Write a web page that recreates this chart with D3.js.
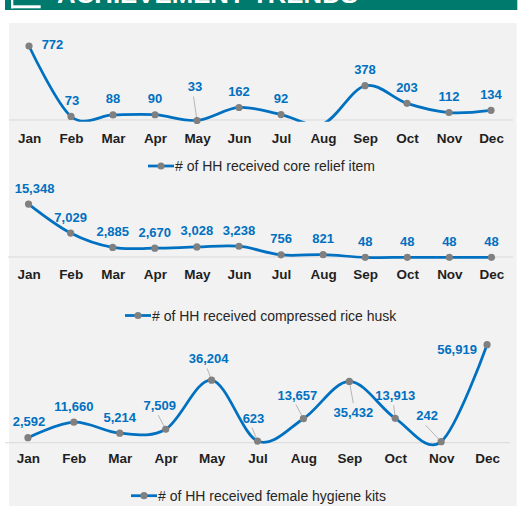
<!DOCTYPE html>
<html>
<head>
<meta charset="utf-8">
<script src="https://cdn.jsdelivr.net/npm/d3@7"></script>
<style>
  html, body { margin: 0; padding: 0; background: #ffffff; }
  svg { display: block; }
  text { font-family: "Liberation Sans", Arial, sans-serif; }
</style>
</head>
<body>
<svg id="chart" width="526" height="506"></svg>
<script>
// ---------- DATA ----------
const titleText = "ACHIEVEMENT TRENDS";

const months = ["Jan","Feb","Mar","Apr","May","Jun","Jul","Aug","Sep","Oct","Nov","Dec"];

const coreSeriesName = "# of HH received core relief item";
const coreValues = [772, 73, 88, 90, 33, 162, 92, 0, 378, 203, 112, 134];
const coreHiddenMonths = ["Aug"];

const huskSeriesName = "# of HH received compressed rice husk";
const huskValues = [15348, 7029, 2885, 2670, 3028, 3238, 756, 821, 48, 48, 48, 48];

const hygieneSeriesName = "# of HH received female hygiene kits";
const hygieneMonths = ["Jan","Feb","Mar","Apr","May","Jul","Aug","Sep","Oct","Nov","Dec"];
const hygieneValues = [2592, 11660, 5214, 7509, 36204, 623, 13657, 35432, 13913, 242, 56919];

// ---------- STYLE / LAYOUT ----------
const C = {
  teal: "#007A6C",
  panel: "#F2F2F2",
  axis: "#D9D9D9",
  line: "#0070C0",
  marker: "#808080",
  label: "#0070C0",
  month: "#1F1F1F",
  legend: "#262626",
  leader: "#A6A6A6"
};

// label placements (offsets from point, in px) per panel
const corePlacement = {
  Jan: {dx: 23.5, dy: -1.5},
  Feb: {dx: 1, dy: -16},
  May: {dx: -2, dy: -33.5, leader: true}
};
const huskPlacement = {
  Jan: {dx: 6, dy: -16}
};
const hygienePlacement = {
  Jan: {dx: 1, dy: -16.5},
  Feb: {dx: 0, dy: -15.5},
  Mar: {dx: 0, dy: -16},
  Apr: {dx: -6, dy: -23.6, leader: true},
  May: {dx: -3, dy: -21.3, leader: true},
  Jul: {dx: -4, dy: -23, leader: true},
  Aug: {dx: -6, dy: -23.7, leader: true},
  Sep: {dx: 4, dy: 30.7, leader: true},
  Oct: {dx: 0, dy: -22.6, leader: true},
  Nov: {dx: -14, dy: -26, leader: true},
  Dec: {dx: -30, dy: 4.6}
};

const panels = [
  {
    id: "p1", cats: months, values: coreValues, hidden: coreHiddenMonths,
    name: coreSeriesName, placement: corePlacement,
    xRange: [8, 512], yDomain: [0, 800], yRange: [123.8, 43.2],
    axisY: 120, axisX: [9, 513], clipBottom: 121.8, monthY: 138,
    legendX: 148, legendY: 166
  },
  {
    id: "p2", cats: months, values: huskValues, hidden: [],
    name: huskSeriesName, placement: huskPlacement,
    xRange: [7.5, 512.5], yDomain: [0, 16000], yRange: [257.5, 201.8],
    axisY: 257, axisX: [8, 513], clipBottom: 262, monthY: 274,
    legendX: 125, legendY: 315.5
  },
  {
    id: "p3", cats: hygieneMonths, values: hygieneValues, hidden: [],
    name: hygieneSeriesName, placement: hygienePlacement,
    xRange: [5, 510], yDomain: [0, 60000], yRange: [442.1, 339.4],
    axisY: 442.7, axisX: [5, 510], clipBottom: 447, monthY: 458.3,
    legendX: 131, legendY: 495.7
  }
];

const fmt = d3.format(",");

// ---------- DRAW ----------
const svg = d3.select("#chart");

// header band
svg.append("rect").attr("x", 5).attr("y", 0).attr("width", 512.3).attr("height", 10).attr("fill", C.teal);
// header icon (white bracket)
svg.append("rect").attr("x", 11).attr("y", 0).attr("width", 2.3).attr("height", 8.3).attr("fill", "#fff");
svg.append("rect").attr("x", 11).attr("y", 5.3).attr("width", 29.7).attr("height", 3).attr("fill", "#fff");
// header title (only its bottom is visible)
svg.append("text")
  .attr("x", 57).attr("y", 3)
  .attr("textLength", 301).attr("lengthAdjust", "spacingAndGlyphs")
  .attr("font-size", 24).attr("font-weight", "bold").attr("fill", "#fff")
  .text(titleText);

// gray panel
svg.append("rect").attr("x", 9).attr("y", 23).attr("width", 507.7).attr("height", 483).attr("fill", C.panel);

const defs = svg.append("defs");

panels.forEach(p => {
  const x = d3.scalePoint().domain(p.cats).range(p.xRange).padding(0.5);
  const y = d3.scaleLinear().domain(p.yDomain).range(p.yRange);
  const data = p.cats.map((m, i) => ({m, v: p.values[i]}));
  const g = svg.append("g");

  // axis line
  g.append("line")
    .attr("x1", p.axisX[0]).attr("x2", p.axisX[1])
    .attr("y1", p.axisY).attr("y2", p.axisY)
    .attr("stroke", C.axis).attr("stroke-width", 1);

  // month labels via d3 axis
  const ax = g.append("g")
    .attr("transform", `translate(0,${p.monthY - 9})`)
    .call(d3.axisBottom(x).tickSize(0).tickPadding(0));
  ax.select(".domain").remove();
  ax.selectAll("text")
    .attr("dy", null).attr("y", 9).attr("dominant-baseline", "central")
    .attr("font-size", 13.5).attr("font-weight", "bold").attr("fill", C.month)
    .style("font-family", '"Liberation Sans", Arial, sans-serif');

  // clip
  defs.append("clipPath").attr("id", "clip-" + p.id)
    .append("rect").attr("x", 0).attr("y", 0).attr("width", 526).attr("height", p.clipBottom);

  // line
  const line = d3.line().x(d => x(d.m)).y(d => y(d.v)).curve(d3.curveCardinal.tension(0));
  g.append("path").datum(data)
    .attr("d", line)
    .attr("clip-path", `url(#clip-${p.id})`)
    .attr("fill", "none").attr("stroke", C.line).attr("stroke-width", 2.75)
    .attr("stroke-linejoin", "round").attr("stroke-linecap", "round");

  const shown = data.filter(d => !p.hidden.includes(d.m));

  // leader lines
  shown.forEach(d => {
    const pl = p.placement[d.m] || {dx: 0, dy: -16};
    if (!pl.leader) return;
    const px = x(d.m), py = y(d.v);
    const lx = px + pl.dx, ly = py + pl.dy;
    const sy = pl.dy < 0 ? ly + 9.5 : ly - 9;
    g.append("line")
      .attr("x1", lx + (pl.dy < 0 ? -1.5 : 0)).attr("y1", sy)
      .attr("x2", px).attr("y2", py)
      .attr("stroke", C.leader).attr("stroke-width", 0.8);
  });

  // markers
  g.selectAll("circle.m").data(shown).join("circle")
    .attr("cx", d => x(d.m)).attr("cy", d => y(d.v)).attr("r", 3.6)
    .attr("fill", C.marker);

  // value labels
  g.selectAll("text.v").data(shown).join("text")
    .attr("x", d => x(d.m) + (p.placement[d.m] || {dx: 0}).dx)
    .attr("y", d => y(d.v) + (p.placement[d.m] || {dy: -16}).dy)
    .attr("text-anchor", "middle").attr("dominant-baseline", "central")
    .attr("font-size", 13).attr("font-weight", "bold").attr("fill", C.label)
    .text(d => fmt(d.v));

  // legend
  const lg = g.append("g").attr("transform", `translate(${p.legendX},${p.legendY})`);
  lg.append("line").attr("x1", 0).attr("x2", 26).attr("y1", 0).attr("y2", 0)
    .attr("stroke", C.line).attr("stroke-width", 2.75);
  lg.append("circle").attr("cx", 13).attr("cy", 0).attr("r", 3.6).attr("fill", C.marker);
  lg.append("text").attr("x", 27).attr("y", 0).attr("dominant-baseline", "central")
    .attr("font-size", 14).attr("fill", C.legend).text(p.name);
});
</script>
</body>
</html>
